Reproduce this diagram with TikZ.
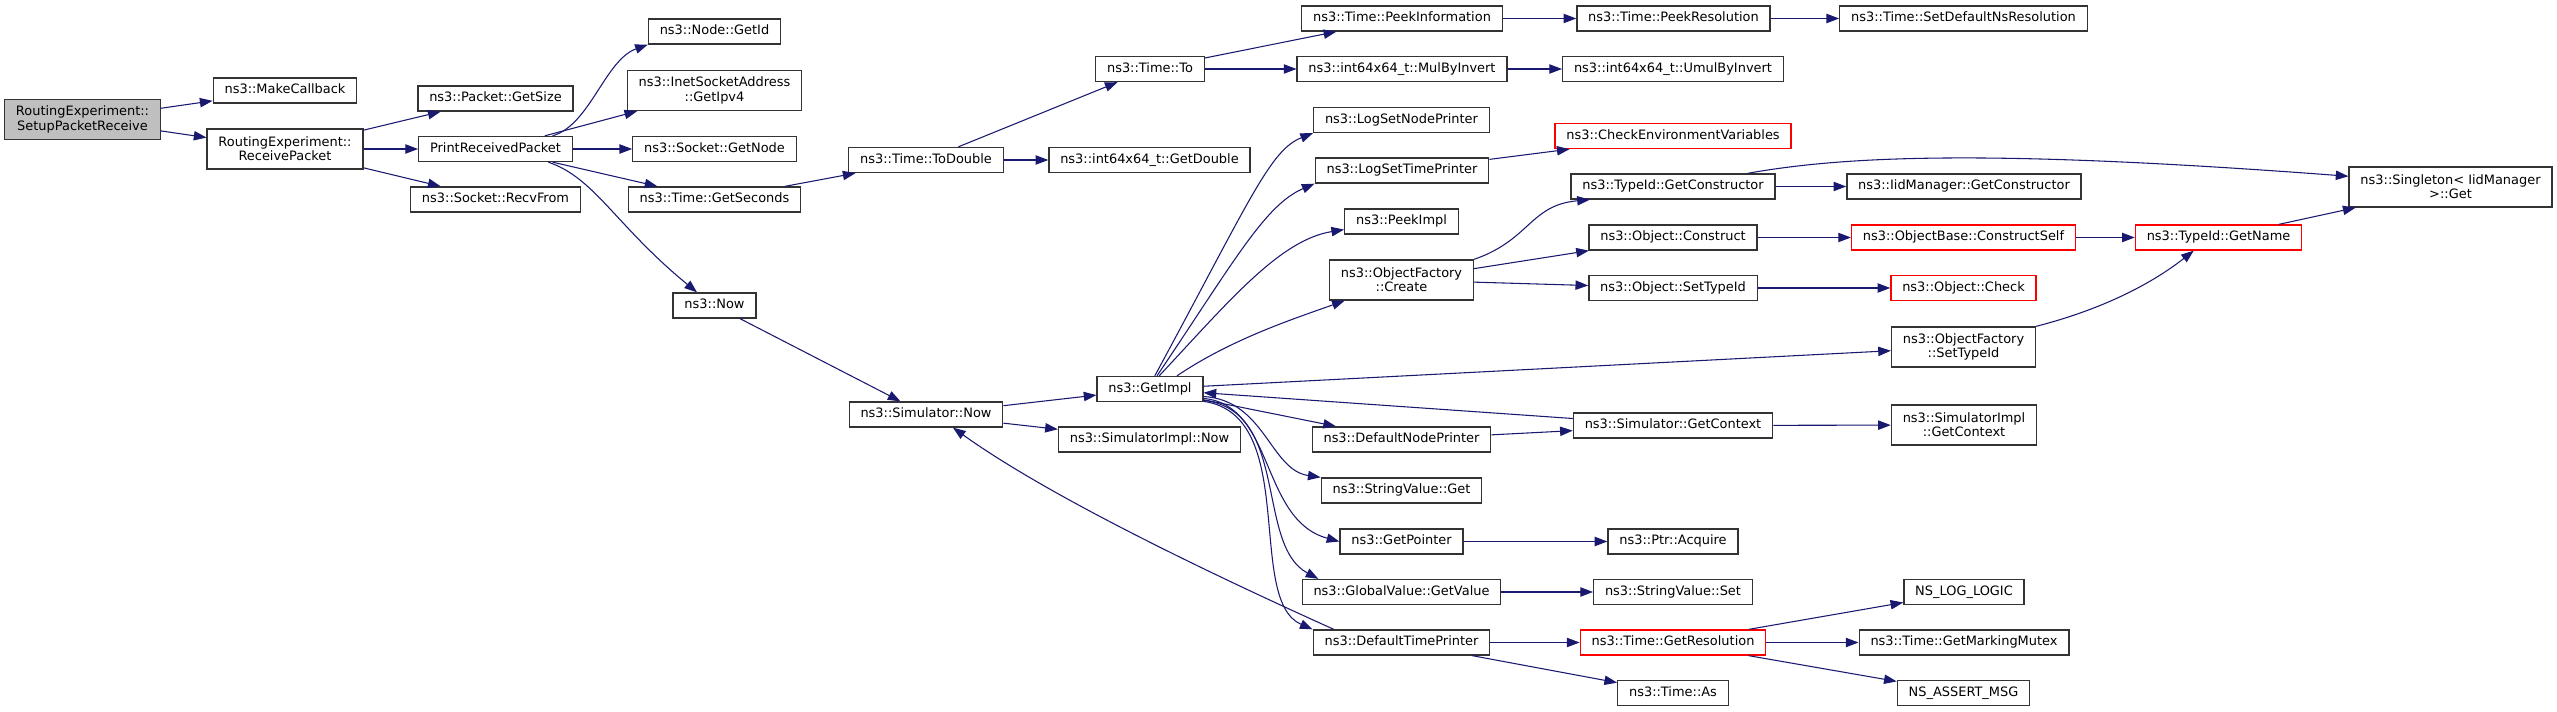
\documentclass[tikz,border=0pt]{standalone}
\usepackage{fontspec}
\setmainfont{DejaVu Sans}
\usetikzlibrary{arrows.meta}

\definecolor{edgeblue}{HTML}{191970}
\definecolor{boxline}{HTML}{333333}
\definecolor{rootgray}{HTML}{BFBFBF}
\newcommand\dgfont{\fontsize{9.7}{10.7}\selectfont}

\tikzset{
  cbox/.style={draw=boxline, fill=white, line width=1pt, font=\dgfont, inner xsep=8.5pt, inner ysep=0pt},
  fn/.style={cbox, minimum height=18.75pt, text height=7.3pt, text depth=2.4pt},
  fnn/.style={cbox, align=center, minimum height=30pt},
  redfn/.style={fn, draw=red},
  call/.style={draw=edgeblue, line width=0.8pt, -{Triangle[length=9.5pt,width=7pt]}}
}

\begin{document}
\begin{tikzpicture}[x=0.75pt, y=-0.75pt]
  \useasboundingbox (0,0) rectangle (2557,712);

  \node[fnn, fill=rootgray] (root) at (82.5,119.5) {RoutingExperiment::\\SetupPacketReceive};
  \node[fn] (makecb) at (285,90.5) {ns3::MakeCallback};
  \node[fnn] (recvpkt) at (285,149) {RoutingExperiment::\\ReceivePacket};
  \node[fn] (getsize) at (495.5,98.5) {ns3::Packet::GetSize};
  \node[fn] (printpkt) at (495.5,149) {PrintReceivedPacket};
  \node[fn] (recvfrom) at (495.5,199.5) {ns3::Socket::RecvFrom};
  \node[fn] (nodeid) at (714.5,31.5) {ns3::Node::GetId};
  \node[fnn] (getipv4) at (714.5,90.5) {ns3::InetSocketAddress\\::GetIpv4};
  \node[fn] (getnode) at (714.5,149) {ns3::Socket::GetNode};
  \node[fn] (getsec) at (714.5,199.5) {ns3::Time::GetSeconds};
  \node[fn] (now) at (714.5,305.5) {ns3::Now};
  \node[fn] (todouble) at (926,160) {ns3::Time::ToDouble};
  \node[fn] (simnow) at (926,414.5) {ns3::Simulator::Now};
  \node[fn] (timeto) at (1150,69) {ns3::Time::To};
  \node[fn] (getdouble) at (1149.5,160) {ns3::int64x64\_t::GetDouble};
  \node[fn] (getimpl) at (1150,389) {ns3::GetImpl};
  \node[fn] (simimplnow) at (1149.5,439.5) {ns3::SimulatorImpl::Now};
  \node[fn] (peekinfo) at (1402,18.5) {ns3::Time::PeekInformation};
  \node[fn] (mulinv) at (1402,69) {ns3::int64x64\_t::MulByInvert};
  \node[fn] (lognode) at (1401.5,120) {ns3::LogSetNodePrinter};
  \node[fn] (logtime) at (1402,170.5) {ns3::LogSetTimePrinter};
  \node[fn] (peekimpl) at (1401.5,221.5) {ns3::PeekImpl};
  \node[fnn] (ofcreate) at (1401.5,280) {ns3::ObjectFactory\\::Create};
  \node[fn] (defnode) at (1401.5,439.5) {ns3::DefaultNodePrinter};
  \node[fn] (svget) at (1401.5,490.5) {ns3::StringValue::Get};
  \node[fn] (getptr) at (1401.5,541.5) {ns3::GetPointer};
  \node[fn] (gvget) at (1401.5,592) {ns3::GlobalValue::GetValue};
  \node[fn] (deftime) at (1401.5,642.5) {ns3::DefaultTimePrinter};
  \node[fn] (peekres) at (1673.5,18.5) {ns3::Time::PeekResolution};
  \node[fn] (umulinv) at (1673,69) {ns3::int64x64\_t::UmulByInvert};
  \node[redfn] (checkenv) at (1673,136) {ns3::CheckEnvironmentVariables};
  \node[fn] (tidctor) at (1673,186.5) {ns3::TypeId::GetConstructor};
  \node[fn] (objcons) at (1673,237.5) {ns3::Object::Construct};
  \node[fn] (objtid) at (1673,288) {ns3::Object::SetTypeId};
  \node[fn] (simctx) at (1673,425.5) {ns3::Simulator::GetContext};
  \node[fn] (acquire) at (1673,541.5) {ns3::Ptr::Acquire};
  \node[fn] (svset) at (1673,592) {ns3::StringValue::Set};
  \node[redfn] (getres) at (1673,642.5) {ns3::Time::GetResolution};
  \node[fn] (timeas) at (1673,693) {ns3::Time::As};
  \node[fn] (setdefns) at (1963.5,18.5) {ns3::Time::SetDefaultNsResolution};
  \node[fn] (iidctor) at (1964,186.5) {ns3::IidManager::GetConstructor};
  \node[redfn] (consself) at (1963.5,237.5) {ns3::ObjectBase::ConstructSelf};
  \node[redfn] (objcheck) at (1963.5,288) {ns3::Object::Check};
  \node[fnn] (oftid) at (1963.5,347) {ns3::ObjectFactory\\::SetTypeId};
  \node[fnn] (implctx) at (1964,425) {ns3::SimulatorImpl\\::GetContext};
  \node[fn] (nslog) at (1964,592) {NS\_LOG\_LOGIC};
  \node[fn] (mutex) at (1964,642.5) {ns3::Time::GetMarkingMutex};
  \node[fn] (nsassert) at (1963.5,693) {NS\_ASSERT\_MSG};
  \node[redfn] (getname) at (2218.5,237.5) {ns3::TypeId::GetName};
  \node[fnn] (singleton) at (2450.5,187) {ns3::Singleton< IidManager\\>::Get};

  \draw[call] (root) -- (makecb);
  \draw[call] (root) -- (recvpkt);
  \draw[call] (recvpkt) -- (getsize);
  \draw[call] (recvpkt) -- (printpkt);
  \draw[call] (recvpkt) -- (recvfrom);
  \draw[call] (printpkt.13) .. controls (590,125) and (605,60) .. (nodeid.south west);
  \draw[call] (printpkt) -- (getipv4);
  \draw[call] (printpkt) -- (getnode);
  \draw[call] (printpkt) -- (getsec);
  \draw[call] (printpkt.-14) .. controls (595,178) and (615,225) .. (now.143);
  \draw[call] (getsec) -- (todouble);
  \draw[call] (todouble) -- (timeto);
  \draw[call] (todouble) -- (getdouble);
  \draw[call] (timeto) -- (peekinfo);
  \draw[call] (timeto) -- (mulinv);
  \draw[call] (peekinfo) -- (peekres);
  \draw[call] (peekres) -- (setdefns);
  \draw[call] (mulinv) -- (umulinv);
  \draw[call] (now) -- (simnow);
  \draw[call] (simnow) -- (getimpl);
  \draw[call] (simnow) -- (simimplnow);
  % fan out of GetImpl
  \draw[call] (getimpl.70) .. controls (1250,200) and (1270,150) .. (lognode.south west);
  \draw[call] (getimpl.62) .. controls (1235,260) and (1265,205) .. (logtime.south west);
  \draw[call] (getimpl.55) .. controls (1230,300) and (1280,240) .. (peekimpl.188);
  \draw[call] (getimpl.26) .. controls (1230,340) and (1290,320) .. (ofcreate.200);
  \draw[call] (getimpl) -- (oftid);
  \draw[call] (getimpl) -- (defnode);
  \draw[call] (getimpl.-8) .. controls (1265,400) and (1270,470) .. (svget.north west);
  \draw[call] (getimpl.-10) .. controls (1275,405) and (1260,520) .. (getptr.west);
  \draw[call] (getimpl.-12) .. controls (1290,410) and (1255,545) .. (gvget.171);
  \draw[call] (getimpl.-13) .. controls (1300,415) and (1245,600) .. (deftime.north west);
  \draw[call] (simctx) -- (getimpl);
  \draw[call] (deftime.169) .. controls (1180,560) and (1040,490) .. (simnow.-26);
  \draw[call] (logtime) -- (checkenv);
  \draw[call] (ofcreate.north east) .. controls (1530,240) and (1530,205) .. (tidctor.189);
  \draw[call] (ofcreate) -- (objcons);
  \draw[call] (ofcreate) -- (objtid);
  \draw[call] (tidctor) -- (iidctor);
  \draw[call] (tidctor.10) .. controls (1850,155) and (2000,150) .. (singleton.174);
  \draw[call] (objcons) -- (consself);
  \draw[call] (consself) -- (getname);
  \draw[call] (objtid) -- (objcheck);
  \draw[call] (oftid.north east) .. controls (2100,310) and (2150,285) .. (getname.208);
  \draw[call] (getname) -- (singleton);
  \draw[call] (defnode) -- (simctx);
  \draw[call] (simctx) -- (implctx);
  \draw[call] (getptr) -- (acquire);
  \draw[call] (gvget) -- (svset);
  \draw[call] (deftime) -- (getres);
  \draw[call] (deftime) -- (timeas);
  \draw[call] (getres) -- (nslog);
  \draw[call] (getres) -- (mutex);
  \draw[call] (getres) -- (nsassert);
\end{tikzpicture}
\end{document}
